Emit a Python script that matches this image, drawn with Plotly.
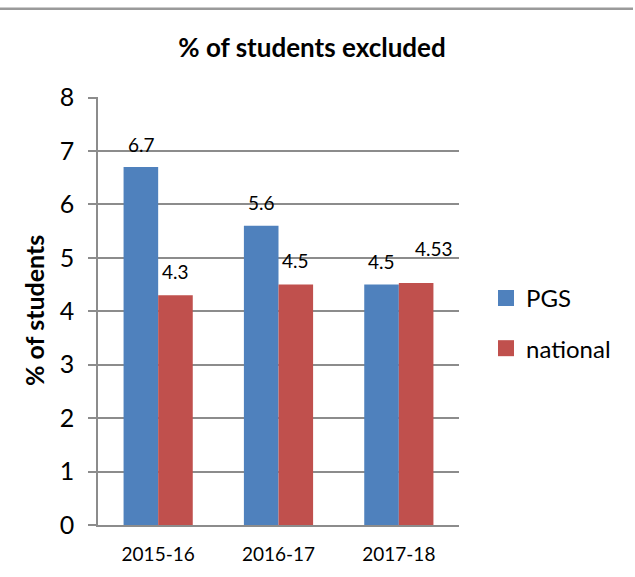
import plotly.graph_objects as go

categories = ["2015-16", "2016-17", "2017-18"]
pgs_values = [6.7, 5.6, 4.5]
national_values = [4.3, 4.5, 4.53]
pgs_labels = ["6.7", "5.6", "4.5"]
national_labels = ["4.3", "4.5", "4.53"]
y_ticks = [0, 1, 2, 3, 4, 5, 6, 7, 8]

FONT = "Lato"
BLUE = "#4F81BD"
RED = "#C0504D"
GRID = "#8C8C8C"

W, H = 635, 577
L, R, T, B = 98, 176, 97, 48
PW, PH = W - L - R, H - T - B


def px_x(x):
    return (x - L) / PW


def px_y(y):
    return (H - B - y) / PH


fig = go.Figure()
fig.add_trace(go.Bar(name="PGS", x=categories, y=pgs_values, marker_color=BLUE,
                     marker_line_width=0, showlegend=False))
fig.add_trace(go.Bar(name="national", x=categories, y=national_values, marker_color=RED,
                     marker_line_width=0, showlegend=False))
# legend entries with larger square symbols
fig.add_trace(go.Scatter(name="PGS", x=[None], y=[None], mode="markers", legendgroup="a",
                         marker=dict(symbol="square", size=16, color=BLUE)))
fig.add_trace(go.Scatter(name="national", x=[None], y=[None], mode="markers", legendgroup="b",
                         marker=dict(symbol="square", size=16, color=RED)))

# data labels
for i, c in enumerate(categories):
    fig.add_annotation(x=c, y=pgs_values[i], text=pgs_labels[i], showarrow=False,
                       xshift=-17, yshift=23, yanchor="middle",
                       font=dict(family=FONT, size=19, color="#000"))
    last = (i == len(categories) - 1)
    fig.add_annotation(x=c, y=national_values[i], text=national_labels[i], showarrow=False,
                       xshift=17 + (18 if last else 0), yshift=34 if last else 24,
                       yanchor="middle",
                       font=dict(family=FONT, size=19, color="#000"))

# top border line
fig.add_shape(type="line", xref="paper", yref="paper", x0=px_x(0), x1=px_x(633),
              y0=px_y(8), y1=px_y(8), line=dict(color="#9A9A9A", width=2.5))

# y axis title
fig.add_annotation(xref="paper", yref="paper", x=px_x(34), y=px_y(313), text="<b>% of students</b>",
                   textangle=-90, showarrow=False, xanchor="center", yanchor="middle",
                   font=dict(family=FONT, size=25, color="#000"))

fig.update_layout(
    width=W, height=H,
    margin=dict(l=L, r=R, t=T, b=B),
    paper_bgcolor="white", plot_bgcolor="white",
    barmode="group", bargap=0.425, bargroupgap=0,
    title=dict(text="<b>% of students excluded</b>", x=312 / W, xanchor="center",
               y=1 - 48 / H, yanchor="middle",
               font=dict(family=FONT, size=26, color="#000")),
    font=dict(family=FONT, color="#000"),
    showlegend=True,
    legend=dict(x=px_x(486), xanchor="left", y=px_y(325.5), yanchor="middle",
                font=dict(family=FONT, size=24, color="#000"),
                traceorder="grouped", tracegroupgap=16, itemwidth=30,
                bgcolor="rgba(0,0,0,0)"),
)
fig.update_yaxes(range=[0, 8.01], tickvals=y_ticks, showgrid=True, gridcolor=GRID, gridwidth=1.5,
                 showline=True, linecolor=GRID, linewidth=1.5, ticks="outside", ticklen=8,
                 tickcolor=GRID, tickwidth=1.5, zeroline=False, ticklabelstandoff=9,
                 tickfont=dict(family=FONT, size=25, color="#000"))
fig.update_xaxes(showline=True, linecolor=GRID, linewidth=2, ticks="", ticklabelstandoff=11,
                 tickfont=dict(family=FONT, size=19, color="#000"))

fig.write_html("out.html", config={"displayModeBar": False},
               post_script="document.body.style.margin='0';")
